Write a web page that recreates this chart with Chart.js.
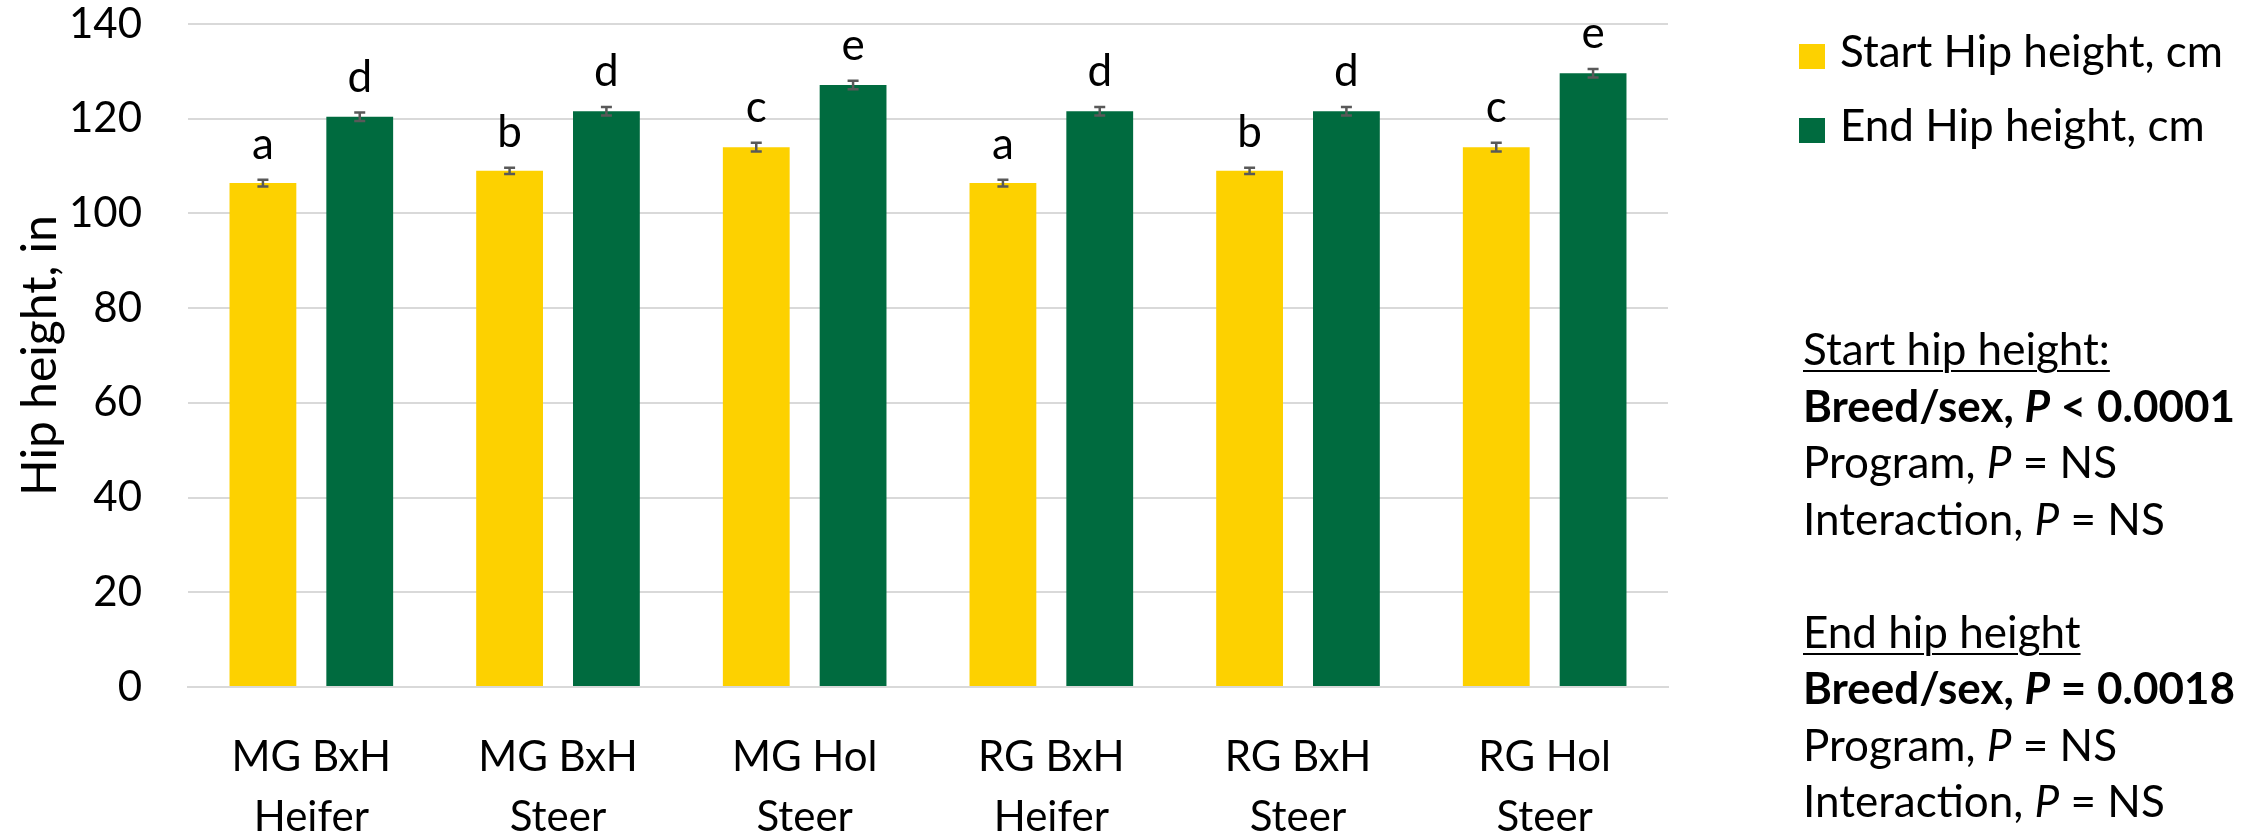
<!DOCTYPE html>
<html>
<head>
<meta charset="utf-8">
<script src="https://cdn.jsdelivr.net/npm/chart.js@4.4.1/dist/chart.umd.min.js"></script>
<style>
  body { margin: 0; background: #fff; }
  #wrap { position: relative; width: 2257px; height: 835px; font-family: Lato, sans-serif; color: #000; }
  canvas { position: absolute; left: 0; top: 0; }
  .legend-row { position: absolute; left: 1799px; font-size: 44px; line-height: 56px; white-space: nowrap; }
  .legend-row span.box { display: inline-block; width: 26px; height: 25px; margin-right: 15px; vertical-align: -2px; }
  #notes { position: absolute; left: 1803px; top: 320px; font-size: 44px; line-height: 56.5px; white-space: nowrap; }
  #notes u { text-decoration-thickness: 2px; text-underline-offset: 5px; }
</style>
</head>
<body>
<div id="wrap">
  <canvas id="hipChart" width="2257" height="835"></canvas>
  <div class="legend-row" style="top:22px"><span class="box" style="background:#FDD100"></span>Start Hip height, cm</div>
  <div class="legend-row" style="top:96px"><span class="box" style="background:#006B3F"></span>End Hip height, cm</div>
  <div id="notes">
    <u>Start hip height:</u><br>
    <b>Breed/sex, <i>P</i> &lt; 0.0001</b><br>
    Program, <i>P</i> = NS<br>
    Interaction, <i>P</i> = NS<br>
    <br>
    <u>End hip height</u><br>
    <b>Breed/sex, <i>P</i> = 0.0018</b><br>
    Program, <i>P</i> = NS<br>
    Interaction, <i>P</i> = NS
  </div>
</div>
<script>
// groups on the x axis
const groups = [
    ['MG BxH', 'Heifer'],
    ['MG BxH', 'Steer'],
    ['MG Hol', 'Steer'],
    ['RG BxH', 'Heifer'],
    ['RG BxH', 'Steer'],
    ['RG Hol', 'Steer']
];

// hip height means
const startHip = [106.4, 109.0, 114.0, 106.4, 109.0, 114.0];
const endHip = [120.4, 121.6, 127.1, 121.6, 121.6, 129.6];

// error bar half lengths
const startErr = [0.7, 0.65, 0.9, 0.7, 0.65, 0.9];
const endErr = [0.9, 0.9, 0.9, 0.9, 0.9, 0.9];

// significance letters above bars
const startLetters = ['a', 'b', 'c', 'a', 'b', 'c'];
const endLetters = ['d', 'd', 'e', 'd', 'd', 'e'];

const FONT = 'Lato, sans-serif';

// draws error bars and the letters on top of each bar
const errorBarsPlugin = {
    id: 'errorBars',
    afterDatasetsDraw(chart) {
        const ctx = chart.ctx;
        const yScale = chart.scales.y;
        chart.data.datasets.forEach((ds, di) => {
            const meta = chart.getDatasetMeta(di);
            meta.data.forEach((bar, i) => {
                const v = ds.data[i];
                const e = ds.errors[i];
                const yTop = yScale.getPixelForValue(v + e);
                const yBot = yScale.getPixelForValue(v - e);
                ctx.save();
                ctx.strokeStyle = '#595959';
                ctx.lineWidth = 2.5;
                ctx.beginPath();
                ctx.moveTo(bar.x, yTop);
                ctx.lineTo(bar.x, yBot);
                ctx.moveTo(bar.x - 5.5, yTop);
                ctx.lineTo(bar.x + 5.5, yTop);
                ctx.moveTo(bar.x - 5.5, yBot);
                ctx.lineTo(bar.x + 5.5, yBot);
                ctx.stroke();
                ctx.fillStyle = '#000';
                ctx.font = '44px ' + FONT;
                ctx.textAlign = 'center';
                ctx.textBaseline = 'alphabetic';
                ctx.fillText(ds.letters[i], bar.x, yTop - 21);
                ctx.restore();
            });
        });
    }
};

new Chart(document.getElementById('hipChart'), {
    type: 'bar',
    data: {
        labels: groups,
        datasets: [{
            label: 'Start Hip height, cm',
            data: startHip,
            errors: startErr,
            letters: startLetters,
            backgroundColor: '#FDD100',
            categoryPercentage: 0.785,
            barPercentage: 0.69
        }, {
            label: 'End Hip height, cm',
            data: endHip,
            errors: endErr,
            letters: endLetters,
            backgroundColor: '#006B3F',
            categoryPercentage: 0.785,
            barPercentage: 0.69
        }]
    },
    options: {
        responsive: false,
        animation: false,
        devicePixelRatio: 1,
        layout: { padding: { left: 0, right: 589, top: 0, bottom: 0 } },
        plugins: {
            legend: { display: false },
            tooltip: { enabled: false }
        },
        scales: {
            x: {
                grid: { display: false },
                border: { display: true, color: '#d9d9d9', width: 2 },
                ticks: {
                    color: '#000',
                    padding: 32,
                    maxRotation: 0,
                    font: { family: FONT, size: 42, lineHeight: 1.43 }
                },
                afterFit(scale) {
                    scale.height = 148;
                    scale.paddingLeft = 0;
                    scale.paddingRight = 0;
                }
            },
            y: {
                min: 0,
                max: 140,
                ticks: {
                    stepSize: 20,
                    color: '#000',
                    padding: 46,
                    font: { family: FONT, size: 42 }
                },
                grid: { color: '#d9d9d9', lineWidth: 2, drawTicks: false },
                border: { display: false },
                title: {
                    display: true,
                    text: 'Hip height, in',
                    color: '#000',
                    padding: { top: 12, bottom: 0 },
                    font: { family: FONT, size: 48 }
                },
                afterFit(scale) {
                    scale.width = 188;
                    scale.paddingTop = 24;
                    scale.paddingBottom = 0;
                }
            }
        }
    },
    plugins: [errorBarsPlugin]
});
</script>
</body>
</html>
